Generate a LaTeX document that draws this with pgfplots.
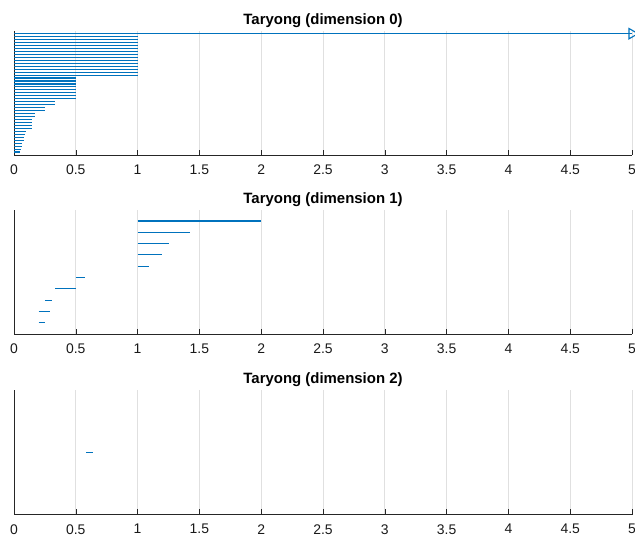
\documentclass[border=0pt]{standalone}
\usepackage{pgfplots}
\pgfplotsset{compat=1.18}
\usepackage{pgfplotstable}
\usepackage{fontspec}
\setmainfont{Liberation Sans}
\definecolor{mblue}{HTML}{0072BD}

% k = row position (top = largest), b = birth, d = death (infinite bar drawn to 5)
\pgfplotstableread{
k b d
41 0 5
40 0 1
39 0 1
38 0 1
37 0 1
36 0 1
35 0 1
34 0 1
33 0 1
32 0 1
31 0 1
30 0 1
29 0 1
28 0 1
27 0 1
26 0 0.5
25 0 0.5
24 0 0.5
23 0 0.5
22 0 0.5
21 0 0.5
20 0 0.5
19 0 0.5
18 0 0.333
17 0 0.333
16 0 0.25
15 0 0.25
14 0 0.167
13 0 0.167
12 0 0.143
11 0 0.143
10 0 0.143
9 0 0.143
8 0 0.100
7 0 0.090
6 0 0.081
5 0 0.077
4 0 0.065
3 0 0.064
2 0 0.055
1 0 0.048
}\tabA

\pgfplotstableread{
k b d
10 1 2
9 1 1.42
8 1 1.25
7 1 1.20
6 1 1.09
5 0.5 0.577
4 0.333 0.5
3 0.25 0.307
2 0.2 0.29
1 0.2 0.25
}\tabB

\pgfplotstableread{
k b d
1 0.583 0.637
}\tabC

\pgfplotsset{
  bcstyle/.style={
    scale only axis,
    width=618bp, height=124.3bp,
    xmin=0, xmax=5,
    xtick={0,0.5,...,5},
    ytick=\empty,
    axis x line*=bottom,
    axis y line*=left,
    axis line style={-, black!85, line width=0.6bp},
    tick align=inside,
    major tick length=5bp,
    tick style={black!85, line width=0.6bp},
    xmajorgrids,
    major grid style={black!12, line width=0.7bp},
    /pgf/number format/assume math mode=true,
    xticklabel style={font=\fontsize{14}{16}\selectfont, yshift=-6.3bp, text=black!90},
    title style={anchor=base, at={(0.5,1)}, yshift=0.5bp, font=\fontsize{15}{18}\selectfont\bfseries},
    clip=false,
  },
  bar/.style={mblue, line width=1.1bp, mark=none,
    quiver={u=\thisrow{d}-\thisrow{b}, v=0}},
}

\begin{document}
\begin{tikzpicture}
\useasboundingbox (0,0) rectangle (635bp,538bp);

\begin{axis}[bcstyle, at={(14bp,383bp)}, anchor=south west,
  ymin=0, ymax=42, title={Taryong (dimension 0)}]
  \addplot[bar] table[x=b, y=k] {\tabA};
  \addplot[mblue, line width=1.1bp, mark=triangle, mark size=6bp,
    mark options={rotate=-90, solid, fill=white}] coordinates {(5,41)};
\end{axis}

\begin{axis}[bcstyle, at={(14bp,204bp)}, anchor=south west,
  ymin=0, ymax=11, title={Taryong (dimension 1)}]
  \addplot[bar] table[x=b, y=k] {\tabB};
\end{axis}

\begin{axis}[bcstyle, at={(14bp,23.5bp)}, anchor=south west,
  ymin=0, ymax=2, title={Taryong (dimension 2)}]
  \addplot[bar] table[x=b, y=k] {\tabC};
\end{axis}
\end{tikzpicture}
\end{document}
